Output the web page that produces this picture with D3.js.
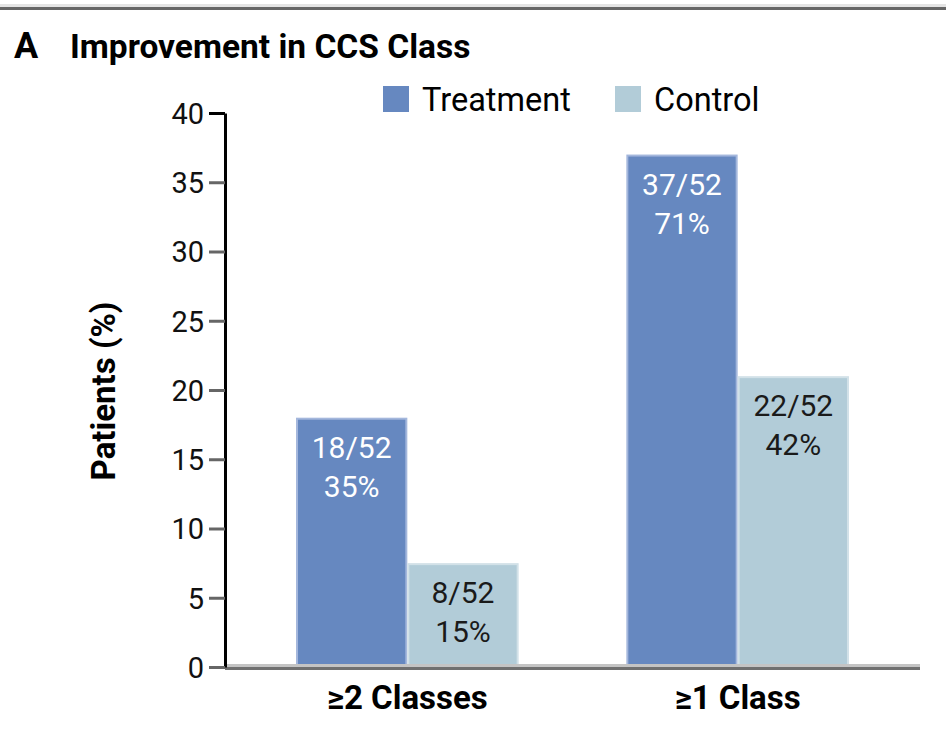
<!doctype html>
<html>
<head>
    <style>
        body { margin: 0; background: #fff; }
        text { font-family: Roboto, "Liberation Sans", sans-serif; }
    </style>
    <script src="https://d3js.org/d3.v7.min.js"></script>
</head>
<body>
<svg width="946" height="752"></svg>
<script>
    var categories = ["\u22652 Classes", "\u22651 Class"],
        series = ["Treatment", "Control"],
        treatment = [18, 37],
        control = [7.5, 21],
        treatmentCounts = ["18/52", "37/52"],
        treatmentPct = ["35%", "71%"],
        controlCounts = ["8/52", "22/52"],
        controlPct = ["15%", "42%"],
        yTicks = [0, 5, 10, 15, 20, 25, 30, 35, 40];

    var colors = { Treatment: "#6688c0", Control: "#b2ccd8" },
        edges = { Treatment: "#a4b7dc", Control: "#d2e1e8" },
        labelFill = { Treatment: "#ffffff", Control: "#1a1a1a" };

    var svg = d3.select("svg");

    svg.append("rect").attr("x", 0).attr("y", 4).attr("width", 946).attr("height", 3).attr("fill", "#e4e4e4");
    svg.append("rect").attr("x", 0).attr("y", 7).attr("width", 946).attr("height", 3).attr("fill", "#666");

    // title
    svg.append("text")
       .attr("x", 14).attr("y", 58)
       .attr("font-size", "36px").attr("font-weight", "bold")
       .text("A");
    svg.append("text")
       .attr("x", 70).attr("y", 58)
       .attr("font-size", "33.5px").attr("font-weight", "bold")
       .text("Improvement in CCS Class");

    var y = d3.scaleLinear().domain([0, 40]).range([667, 113]);
    var x0 = d3.scaleBand().domain(categories).range([225, 920])
               .paddingInner(0.326).paddingOuter(0.215);
    var x1 = d3.scaleBand().domain(series).range([0, x0.bandwidth()]);

    var rows = categories.map(function(c, i) {
        return [
            { cat: c, key: "Treatment", value: treatment[i], count: treatmentCounts[i], pct: treatmentPct[i] },
            { cat: c, key: "Control", value: control[i], count: controlCounts[i], pct: controlPct[i] }
        ];
    });

    var groups = svg.selectAll(".grp")
        .data(rows)
        .enter().append("g")
        .attr("class", "grp")
        .attr("transform", function(d, i) { return "translate(" + x0(categories[i]) + ",0)"; });

    groups.selectAll("rect")
        .data(function(d) { return d; })
        .enter().append("rect")
        .attr("x", function(d) { return x1(d.key) + 1; })
        .attr("y", function(d) { return y(d.value) + 1; })
        .attr("width", x1.bandwidth() - 2)
        .attr("height", function(d) { return y(0) - y(d.value) - 1; })
        .attr("fill", function(d) { return colors[d.key]; })
        .attr("stroke", function(d) { return edges[d.key]; })
        .attr("stroke-width", 2);

    groups.selectAll(".cnt")
        .data(function(d) { return d; })
        .enter().append("text")
        .attr("class", "cnt")
        .attr("x", function(d) { return x1(d.key) + x1.bandwidth() / 2; })
        .attr("y", function(d) { return y(d.value) + 40; })
        .attr("text-anchor", "middle")
        .attr("font-size", "30px")
        .attr("fill", function(d) { return labelFill[d.key]; })
        .text(function(d) { return d.count; });

    groups.selectAll(".pct")
        .data(function(d) { return d; })
        .enter().append("text")
        .attr("class", "pct")
        .attr("x", function(d) { return x1(d.key) + x1.bandwidth() / 2; })
        .attr("y", function(d) { return y(d.value) + 79; })
        .attr("text-anchor", "middle")
        .attr("font-size", "30px")
        .attr("fill", function(d) { return labelFill[d.key]; })
        .text(function(d) { return d.pct; });

    // baseline
    svg.append("line").attr("x1", 225).attr("x2", 920).attr("y1", 665.5).attr("y2", 665.5)
       .attr("stroke", "#c4c4c4").attr("stroke-width", 3);
    svg.append("line").attr("x1", 225).attr("x2", 920).attr("y1", 668.5).attr("y2", 668.5)
       .attr("stroke", "#707070").attr("stroke-width", 3);

    // y axis
    var yAxis = svg.append("g")
        .attr("transform", "translate(225,0)")
        .call(d3.axisLeft(y).tickValues(yTicks).tickSize(16).tickSizeOuter(0).tickPadding(5));
    yAxis.select(".domain").attr("stroke", "#000").attr("stroke-width", 3);
    yAxis.selectAll(".tick line").attr("stroke", "#666").attr("stroke-width", 3);
    yAxis.selectAll(".tick line").filter(function(d) { return d === 40; }).attr("stroke", "#000");
    yAxis.selectAll(".tick text")
        .attr("font-size", "29px").attr("font-family", "Roboto, sans-serif")
        .attr("fill", "#111").attr("dy", "0.36em");

    svg.append("text")
       .attr("transform", "translate(115,391) rotate(-90)")
       .attr("text-anchor", "middle")
       .attr("font-size", "33px").attr("font-weight", "bold")
       .text("Patients (%)");

    // x labels
    svg.selectAll(".xlab")
       .data(categories)
       .enter().append("text")
       .attr("class", "xlab")
       .attr("x", function(d) { return x0(d) + x0.bandwidth() / 2; })
       .attr("y", 709)
       .attr("text-anchor", "middle")
       .attr("font-size", "33px").attr("font-weight", "bold")
       .text(function(d) { return d; });

    // legend
    var legendX = [383, 615];
    var legend = svg.selectAll(".leg")
        .data(series)
        .enter().append("g")
        .attr("class", "leg")
        .attr("transform", function(d, i) { return "translate(" + legendX[i] + ",86)"; });
    legend.append("rect").attr("width", 26).attr("height", 26)
        .attr("fill", function(d) { return colors[d]; });
    legend.append("text").attr("x", 39).attr("y", 25)
        .attr("font-size", "32.5px")
        .text(function(d) { return d; });
</script>
</body>
</html>
